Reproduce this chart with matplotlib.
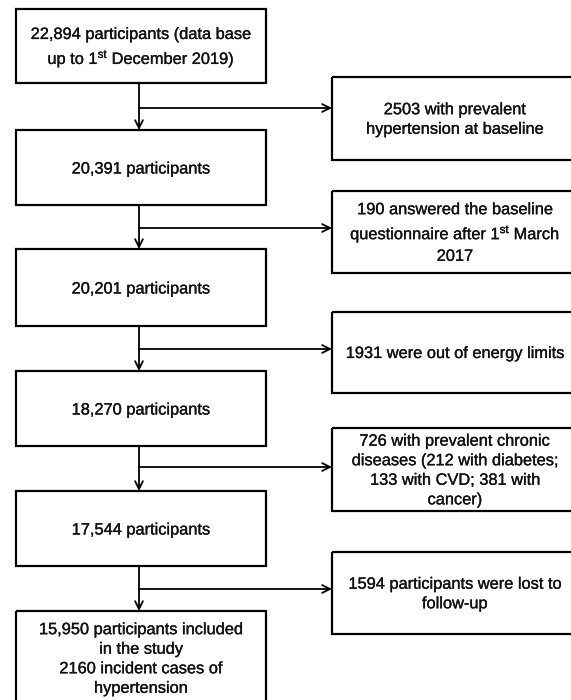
import matplotlib
matplotlib.use("Agg")
import matplotlib.pyplot as plt
from matplotlib.patches import Rectangle
import matplotlib.patheffects as pe

plt.rcParams['mathtext.fontset'] = 'custom'
plt.rcParams['mathtext.rm'] = 'Liberation Sans'
plt.rcParams['mathtext.it'] = 'Liberation Sans'
plt.rcParams['font.family'] = ['Liberation Sans', 'DejaVu Sans']

# Flow content
main_steps = [
    "22,894 participants (data base\nup to 1$^{\\mathrm{st}}$ December 2019)",
    "20,391 participants",
    "20,201 participants",
    "18,270 participants",
    "17,544 participants",
    "15,950 participants included\nin the study\n2160 incident cases of\nhypertension",
]
exclusions = [
    "2503 with prevalent\nhypertension at baseline",
    "190 answered the baseline\nquestionnaire after 1$^{\\mathrm{st}}$ March\n2017",
    "1931 were out of energy limits",
    "726 with prevalent chronic\ndiseases (212 with diabetes;\n133 with CVD; 381 with\ncancer)",
    "1594 participants were lost to\nfollow-up",
]

# Layout (pixel coordinates)
W, H = 571, 700
left_x0, left_x1 = 16, 266
left_boxes = [(9, 83), (130, 205), (249, 326), (371, 446), (491, 566), (611, 725)]
left_text_y = [48, 169, 289, 410, 530, 659]
right_x0, right_x1 = 332, 580
right_boxes = [(77, 160), (191, 273), (312, 393), (428, 511), (552, 634)]
branch_y = [108, 228, 349, 467, 589]
cx = 139
rtext_x = 455

fig = plt.figure(figsize=(W / 100, H / 100), dpi=100)
ax = fig.add_axes([0, 0, 1, 1])
ax.set_xlim(0, W)
ax.set_ylim(H, 0)
ax.axis('off')

fs = 11.8
lw_box = 1.6
lw_line = 1.3
heavy = [pe.withStroke(linewidth=0.22, foreground='#111111')]

for (y0, y1), ty, txt in zip(left_boxes, left_text_y, main_steps):
    ax.add_patch(Rectangle((left_x0, y0), left_x1 - left_x0, y1 - y0,
                           fill=False, lw=lw_box, ec='black'))
    ax.text((left_x0 + left_x1) / 2, ty, txt, ha='center', va='center',
            fontsize=fs, linespacing=1.38, color='#111111', path_effects=heavy)

for (y0, y1), txt in zip(right_boxes, exclusions):
    ax.add_patch(Rectangle((right_x0, y0), right_x1 - right_x0, y1 - y0,
                           fill=False, lw=lw_box, ec='black'))
    ax.text(rtext_x, (y0 + y1) / 2 + 1, txt, ha='center', va='center',
            fontsize=fs, linespacing=1.38, color='#111111', path_effects=heavy)

arrow_kw = dict(arrowstyle='->', lw=lw_line, color='black',
                mutation_scale=14, shrinkA=0, shrinkB=0)
for i in range(5):
    ytop = left_boxes[i][1]
    ybot = left_boxes[i + 1][0]
    ax.annotate('', xy=(cx, ybot), xytext=(cx, ytop), arrowprops=arrow_kw)
    ax.annotate('', xy=(right_x0, branch_y[i]), xytext=(cx, branch_y[i]),
                arrowprops=arrow_kw)

fig.savefig('out.png', dpi=100)
